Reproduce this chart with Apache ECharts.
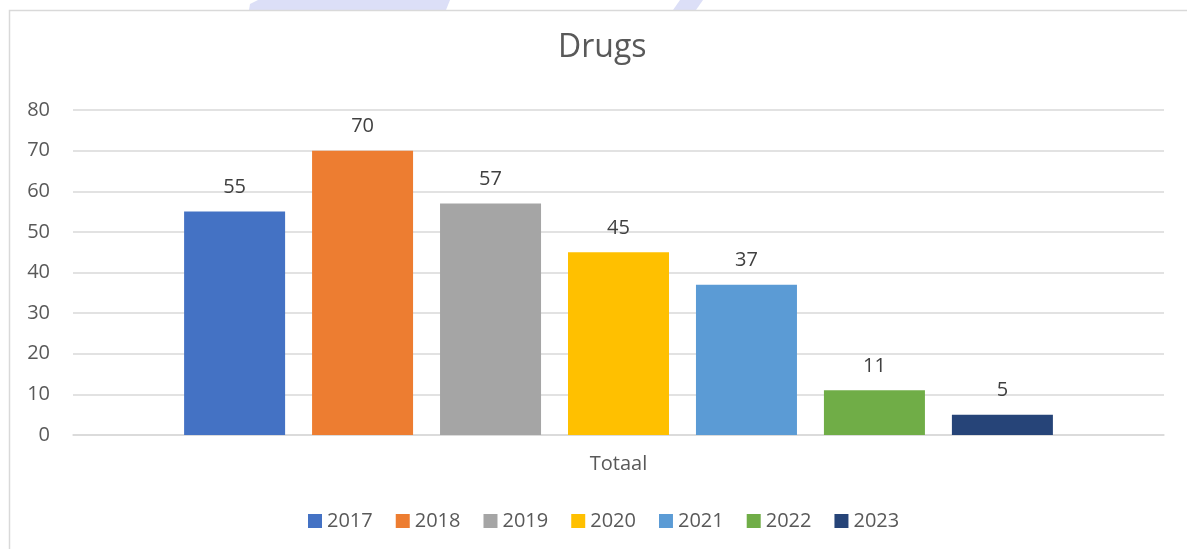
<!DOCTYPE html>
<html>
<head>
<meta charset="utf-8">
<script src="https://cdn.jsdelivr.net/npm/echarts@6/dist/echarts.min.js"></script>
<style>
html,body{margin:0;padding:0;background:#fff;}
#c{width:1187px;height:549px;}
</style>
</head>
<body>
<div id="c"></div>
<script>
const categories = ['Totaal'];
const years = ['2017','2018','2019','2020','2021','2022','2023'];
const values = [55, 70, 57, 45, 37, 11, 5];
const colors = ['#4472C4','#ED7D31','#A5A5A5','#FFC000','#5B9BD5','#70AD47','#264478'];
const yTicks = { min: 0, max: 80, interval: 10 };

const FONT = '"Open Sans", "Noto Sans", sans-serif';
const TXT = '#595959';

const chart = echarts.init(document.getElementById('c'), null, {renderer:'canvas'});
chart.setOption({
  animation: false,
  backgroundColor: '#fff',
  textStyle: { fontFamily: FONT },
  title: {
    text: 'Drugs',
    left: 558,
    top: 32,
    padding: 0,
    textStyle: { fontFamily: FONT, fontSize: 32, fontWeight: 'normal', color: TXT }
  },
  graphic: [
    { type: 'polygon', silent: true, z: -1,
      shape: { points: [[249,10],[250,4],[258,0],[450,0],[446,10]] },
      style: { fill: '#dcdff7' } },
    { type: 'polygon', silent: true, z: -1,
      shape: { points: [[673,10],[680,0],[703,0],[696,10]] },
      style: { fill: '#dcdff7' } },
    { type: 'polyline', silent: true, z: 10,
      shape: { points: [[9.5,549],[9.5,10.5],[1187,10.5]] },
      style: { stroke: '#d9d9d9', lineWidth: 1.5, fill: null } }
  ],
  legend: {
    top: 506,
    left: 303,
    itemWidth: 14,
    itemHeight: 14,
    itemGap: 23,
    icon: 'rect',
    textStyle: { fontFamily: FONT, fontSize: 20, color: TXT },
    data: years
  },
  grid: { left: 73, right: 23, top: 110, bottom: 114 },
  xAxis: {
    type: 'category',
    data: categories,
    axisLine: { lineStyle: { color: '#d9d9d9', width: 1.5 } },
    axisTick: { show: false },
    axisLabel: { fontFamily: FONT, fontSize: 20, color: TXT, margin: 19 }
  },
  yAxis: {
    type: 'value',
    min: yTicks.min, max: yTicks.max, interval: yTicks.interval,
    axisLine: { show: false },
    axisTick: { show: false },
    splitLine: { lineStyle: { color: '#d9d9d9', width: 1.5 } },
    axisLabel: { fontFamily: FONT, fontSize: 20, color: TXT, margin: 23 }
  },
  series: years.map((y, i) => ({
    name: y,
    type: 'bar',
    data: [values[i]],
    barWidth: 101,
    barGap: '26.7%',
    itemStyle: { color: colors[i] },
    label: {
      show: true, position: 'top', distance: 14,
      fontFamily: FONT, fontSize: 20, color: '#404040'
    }
  }))
});
</script>
</body>
</html>
